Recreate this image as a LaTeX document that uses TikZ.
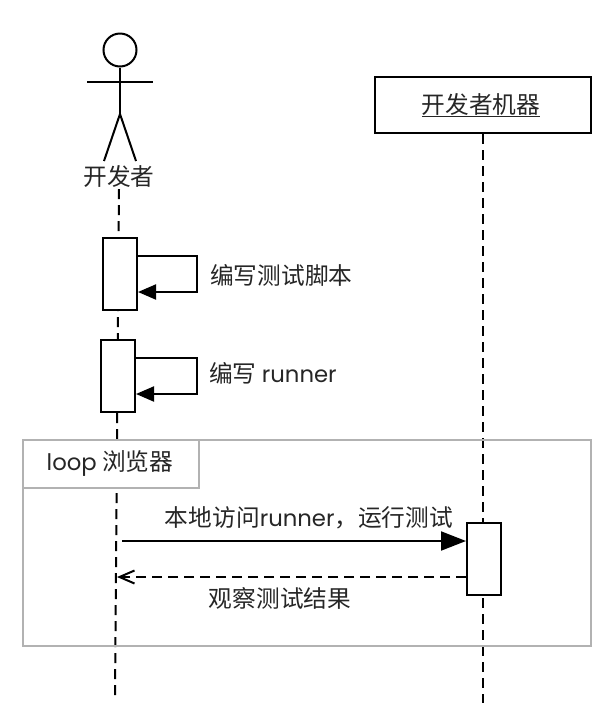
\documentclass[tikz,border=0pt]{standalone}
\usepackage{fontspec}
\setmainfont{Noto Sans CJK SC}
\newfontfamily\latinfont[Scale=0.96]{Poppins}
\usepackage{tikz}
\usetikzlibrary{arrows.meta, calc}

\tikzset{
  lbl/.style={font=\fontsize{23.7}{28}\selectfont, inner sep=0pt, text=black!85},
  lifeline/.style={line width=2pt, dash pattern=on 10pt off 6pt},
  activation/.style={draw, line width=2pt, fill=white, minimum width=34pt, minimum height=72pt, inner sep=0pt},
  selfmsg/.style={line width=2pt, -{Triangle[length=18pt, width=15pt]}},
  framegray/.style={draw=black!30, line width=2pt}
}

\begin{document}
\begin{tikzpicture}[x=1pt, y=-1pt]
\useasboundingbox (0,0) rectangle (612,724);

% The stick figure
\node[circle, draw, line width=2pt, minimum size=33pt, inner sep=0pt] (head) at (120,50) {};
\coordinate (hip) at (120,114);
\coordinate (armleft) at (87,81.5);
\coordinate (armright) at (153,81.5);
\coordinate (legleft) at (104,161);
\coordinate (legright) at (136,161);
\draw[line width=2pt] (head.south) -- (hip);
\draw[line width=2pt] (armleft) -- (armright);
\draw[line width=2pt] (legleft) -- (hip) -- (legright);
\node[lbl] (dev) at (119,176) {开发者};

% The machine header
\node[draw, line width=2pt, minimum width=216pt, minimum height=56pt, inner sep=0pt] (machine) at (483,105) {};
\node[lbl] (machinelabel) at (481,105) {\underline{开发者机器}};

% The lifelines
\coordinate (devend) at (115,698);
\coordinate (machineend) at (483,703);
\draw[lifeline] (dev.south) ++(0,2) -- (devend);
\draw[lifeline] (machine.south) -- (machineend);

% The loop frame
\draw[framegray] (23,440) rectangle (591,645.5);
\node[framegray, fill=white, minimum width=176pt, minimum height=48pt, inner sep=0pt] (looptab) at (111,464) {};
\node[lbl] (looplabel) at (110,463) {{\latinfont loop} 浏览器};

% The activation boxes
\node[activation] (boxa) at (120,274) {};
\node[activation] (boxb) at (118,376) {};
\node[activation] (boxc) at (484,559) {};

% Messages to self
\coordinate (turna) at (197,256);
\coordinate (turnb) at (197,358);
\draw[selfmsg] (boxa.east |- turna) -- (turna) -- ($(turna)+(0,36)$) -- ($(boxa.east |- turna)+(0,36)$);
\draw[selfmsg] (boxb.east |- turnb) -- (turnb) -- ($(turnb)+(0,36)$) -- ($(boxb.east |- turnb)+(0,36)$);
\node[lbl, anchor=west] (selfa) at (210,275) {编写测试脚本};
\node[lbl, anchor=west] (selfb) at (209,373) {编写 {\latinfont runner}};

% The call and its answer
\coordinate (callstart) at (122,541);
\coordinate (answerend) at (117,577);
\draw[line width=2pt, -{Triangle[length=25pt, width=19pt]}] (callstart) -- (callstart -| boxc.west);
\node[lbl] (calllabel) at (309,518) {本地访问{\latinfont runner}，运行测试};
\draw[line width=2pt, dash pattern=on 10pt off 6pt, -{Straight Barb[length=15pt, width=13pt]}] (boxc.west |- answerend) -- (answerend);
\node[lbl] (answerlabel) at (280,598) {观察测试结果};

\end{tikzpicture}
\end{document}
